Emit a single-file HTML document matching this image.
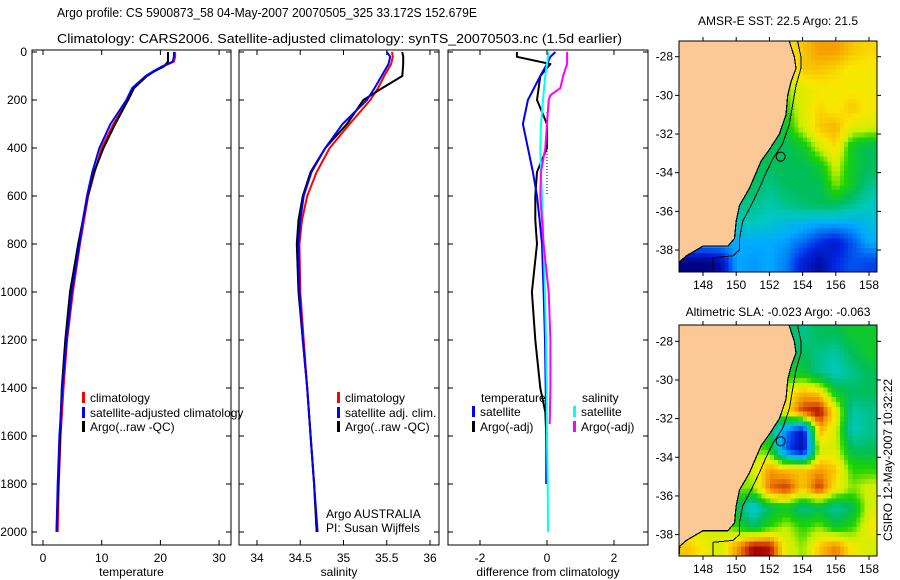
<!DOCTYPE html>
<html><head><meta charset="utf-8"><style>
html,body{margin:0;padding:0;background:#fff}
svg{display:block;font-family:"Liberation Sans",sans-serif}
</style></head><body>
<svg id="fig" width="900" height="580" viewBox="0 0 900 580" xmlns="http://www.w3.org/2000/svg">
<text x="57" y="17" font-size="13" textLength="420" lengthAdjust="spacingAndGlyphs">Argo profile: CS 5900873_58 04-May-2007 20070505_325 33.172S 152.679E</text>
<text x="57" y="43" font-size="13" textLength="565" lengthAdjust="spacingAndGlyphs">Climatology: CARS2006. Satellite-adjusted climatology: synTS_20070503.nc (1.5d earlier)</text>
<text x="778" y="25" font-size="12" text-anchor="middle">AMSR-E SST: 22.5 Argo: 21.5</text>
<text x="778" y="316" font-size="12" text-anchor="middle">Altimetric SLA: -0.023 Argo: -0.063</text>
<text transform="translate(892,460) rotate(-90)" font-size="12" text-anchor="middle">CSIRO 12-May-2007 10:32:22</text>
<g id="plots"></g>
</svg>
<script>
// ---- data ----
const depthsT = [0,20,40,60,80,100,150,200,300,400,500,600,700,800,1000,1200,1400,1600,1800,2000];
const tempClim = [22.5,22.5,22.3,20.5,19,17.7,15.5,14.5,12,10,8.8,7.7,7,6.3,5.1,4.1,3.5,3.0,2.7,2.5];
const tempSat = [22.3,22.3,22.1,20.3,18.8,17.5,15.2,14.2,11.5,9.6,8.4,7.5,6.8,6.2,4.9,4.0,3.3,2.8,2.5,2.3];
const tempArgo = [21.3,21.3,21.3,20.6,19,17.7,15.5,14.5,12.3,10.3,8.7,7.6,6.8,6.0,4.6,3.8,3.2,2.9,2.6,2.3];
const depthsS = [0,20,50,100,150,200,300,400,500,600,700,800,1000,1200,1400,1600,1800,2000];
const salClim = [35.56,35.57,35.55,35.47,35.4,35.31,35.07,34.84,34.69,34.58,34.52,34.49,34.5,34.54,34.58,34.62,34.66,34.69];
const salSat = [35.5,35.54,35.52,35.44,35.36,35.27,34.99,34.79,34.63,34.54,34.5,34.48,34.49,34.53,34.58,34.62,34.66,34.7];
const salArgo = [35.68,35.69,35.69,35.68,35.45,35.23,35.04,34.79,34.62,34.53,34.48,34.46,34.48,34.53,34.58,34.62,34.66,34.69];
const depthsD = [0,20,50,100,200,300,400,500,600,700,800,1000,1200,1400,1500,1600,1800];
const diffTempArgo = [-0.9,-0.9,0.1,-0.2,-0.3,0,0,-0.3,-0.35,-0.35,-0.3,-0.45,-0.35,-0.2,-0.05,-0.02,-0.02];
const diffTempSat = [0.25,0.1,0,-0.2,-0.57,-0.72,-0.57,-0.42,-0.3,-0.22,-0.15,-0.1,-0.06,-0.04,-0.03,-0.02,0];
const depthsC = [0,50,100,200,300,400,500,600,800,1000,1200,1400,1600,1800,2000];
const diffSalSat = [0.05,0,-0.05,-0.12,-0.18,-0.2,-0.18,-0.15,-0.1,-0.06,-0.03,-0.01,0,0.02,0.03];
const depthsM = [0,50,100,150,180,200,300,400,500,600,700,800,1000,1200,1400,1550];
const diffSalArgo = [0.6,0.6,0.48,0.4,0.1,0.05,0,-0.05,-0.18,-0.2,-0.15,-0.1,0.05,0.1,0.1,0.08];
const depthTicks = [0,200,400,600,800,1000,1200,1400,1600,1800,2000];
const tempTicks = [0,10,20,30];
const salTicks = [34,34.5,35,35.5,36];
const salTickLabels = ["34","34.5","35","35.5","36"];
const diffTicks = [-2,0,2];
const latTicks = [-28,-30,-32,-34,-36,-38];
const lonTicks = [148,150,152,154,156,158];
const sstGrid = [
[.7,.7,.7,.7,.7,.7,.75,.8,.85,.85,.8,.78],
[.7,.7,.7,.7,.7,.65,.7,.8,.8,.78,.75,.75],
[.7,.7,.7,.7,.7,.55,.65,.72,.75,.75,.75,.75],
[.7,.7,.7,.7,.7,.5,.6,.72,.78,.75,.8,.75],
[.7,.7,.7,.7,.6,.5,.55,.7,.8,.82,.72,.7],
[.6,.6,.6,.6,.55,.5,.5,.55,.7,.78,.55,.5],
[.55,.55,.55,.55,.5,.5,.5,.5,.55,.7,.55,.5],
[.5,.5,.5,.5,.5,.45,.5,.5,.5,.65,.55,.45],
[.45,.45,.45,.45,.45,.42,.45,.48,.5,.5,.45,.4],
[.4,.4,.4,.4,.4,.38,.35,.33,.3,.3,.3,.35],
[.3,.3,.3,.3,.3,.3,.28,.22,.15,.1,.2,.3],
[0,0,.05,.3,.28,.3,.25,.12,.05,.15,.2,.18]];
const slaGrid = [
[.6,.6,.6,.6,.6,.6,.5,.45,.5,.5,.55,.55],
[.6,.6,.6,.6,.6,.55,.5,.5,.45,.42,.5,.55],
[.6,.6,.6,.6,.6,.55,.55,.55,.45,.4,.45,.5],
[.6,.6,.6,.6,.6,.65,.72,.82,.78,.55,.5,.5],
[.6,.6,.6,.6,.6,.6,.75,.95,1,.75,.42,.45],
[.6,.6,.6,.6,.6,.5,.25,.08,.82,.7,.4,.45],
[.6,.6,.6,.6,.65,.6,.2,.05,.7,.7,.5,.5],
[.6,.6,.6,.6,.7,.85,.8,.8,.85,.8,.6,.6],
[.6,.6,.6,.65,.65,.9,.95,.8,.95,.75,.65,.7],
[.6,.6,.6,.5,.35,.5,.55,.45,.5,.42,.5,.7],
[.7,.7,.7,.6,.5,.6,.68,.6,.65,.55,.6,.75],
[.8,.75,.7,.85,1,.98,.72,.65,.8,.88,.75,.7]];
const coastLon = [153.2,153.5,153.6,153.3,153.1,153.0,152.6,152.0,151.5,151.2,150.8,150.2,150.0,149.9,149.5,148.0,147.0,146.6];
const coastLat = [-27.2,-28.0,-28.6,-29.3,-30.0,-31.0,-32.0,-32.8,-33.4,-34.0,-34.8,-35.7,-36.5,-37.4,-37.8,-37.8,-38.3,-38.6];
const shelfLon = [153.7,153.9,153.9,153.6,153.4,153.2,152.8,152.2,151.8,151.4,150.9,150.4,150.2,150.2,149.8,148.6,148.6];
const shelfLat = [-27.2,-28.0,-28.6,-29.5,-30.5,-31.5,-32.5,-33.3,-34.0,-34.8,-35.7,-36.5,-37.4,-38.0,-38.3,-38.4,-39.2];
const argoLon = 152.679, argoLat = -33.172;

const NS="http://www.w3.org/2000/svg";
const root=document.getElementById('plots');
function mk(tag,attrs,parent){const e=document.createElementNS(NS,tag);for(const k in attrs)e.setAttribute(k,attrs[k]);(parent||root).appendChild(e);return e;}

const Y0=52, YS=0.24, YB=545, YT=50;
const yD=d=>Y0+d*YS;

function profilePanel(name,left,right,x0,v0,scale,ticks,labels,xlabel){
  const xs=v=>x0+(v-v0)*scale;
  const g=mk('g',{});
  
  
  const fr=mk('rect',{x:left,y:YT,width:right-left,height:YB-YT,fill:'none',stroke:'#000','stroke-width':1},g);
  
  
  depthTicks.forEach(d=>{
    const y=yD(d);
    mk('line',{x1:left,x2:left+5,y1:y,y2:y,stroke:'#000'},g);
    mk('line',{x1:right,x2:right-5,y1:y,y2:y,stroke:'#000'},g);
  });
  ticks.forEach((v,i)=>{
    const x=xs(v);
    mk('line',{x1:x,x2:x,y1:YB,y2:YB-5,stroke:'#000'},g);
    mk('line',{x1:x,x2:x,y1:YT,y2:YT+5,stroke:'#000'},g);
    const t=mk('text',{x:x,y:YB+17,'font-size':12,'text-anchor':'middle'},g);
    t.textContent=labels[i];
    
    
  });
  const xl=mk('text',{x:(left+right)/2,y:576,'font-size':12,'text-anchor':'middle'},g);
  xl.textContent=xlabel;
  
  
  return {g,xs};
}
function series(p,depths,vals,color,name,w){
  const pts=depths.map((d,i)=>p.xs(vals[i]).toFixed(1)+','+yD(d).toFixed(1)).join(' ');
  const l=mk('polyline',{points:pts,fill:'none',stroke:color,'stroke-width':w||2,'stroke-linejoin':'round'},p.g);
  
  
}
function legend(g,x,y,color,label,name){
  const b=mk('rect',{x:x,y:y-10,width:3,height:11,fill:color},g);
  
  
  const t=mk('text',{x:x+8,y:y,'font-size':12},g);
  t.textContent=label;
  
  
}

depthTicks.forEach(d=>{
  const t=mk('text',{x:27,y:yD(d)+4,'font-size':12,'text-anchor':'end'});
  t.textContent=String(d);
  
  
});

const p1=profilePanel('temperature',32,231,43,0,5.87,tempTicks,tempTicks.map(String),'temperature');
series(p1,depthsT,tempClim,'#f00','temp-climatology-line');
series(p1,depthsT,tempArgo,'#000','temp-argo-line');
series(p1,depthsT,tempSat,'#00f','temp-satellite-line');
legend(p1.g,82,402,'#f00','climatology','legend-climatology');
legend(p1.g,82,417,'#00f','satellite-adjusted climatology','legend-satellite-adjusted');
legend(p1.g,82,431,'#000','Argo(..raw -QC)','legend-argo');

const p2=profilePanel('salinity',239,439,257,34,86.5,salTicks,salTickLabels,'salinity');
series(p2,depthsS,salClim,'#f00','sal-climatology-line');
series(p2,depthsS,salArgo,'#000','sal-argo-line');
series(p2,depthsS,salSat,'#00f','sal-satellite-line');
legend(p2.g,337,402,'#f00','climatology','legend-sal-climatology');
legend(p2.g,337,417,'#00f','satellite adj. clim.','legend-sal-satellite');
legend(p2.g,337,431,'#000','Argo(..raw -QC)','legend-sal-argo');
const a1=mk('text',{x:326,y:518,'font-size':12},p2.g);a1.textContent='Argo AUSTRALIA';


const a2=mk('text',{x:326,y:532,'font-size':12},p2.g);a2.textContent='PI: Susan Wijffels';



const p3=profilePanel('difference',448,648,547,0,33.5,diffTicks,diffTicks.map(String),'difference from climatology');
const dz=mk('line',{x1:p3.xs(0),x2:p3.xs(0),y1:yD(250),y2:yD(600),stroke:'#000','stroke-dasharray':'1,2'},p3.g);


series(p3,depthsD,diffTempArgo,'#000','diff-temp-argo-line');
series(p3,depthsD,diffTempSat,'#00f','diff-temp-satellite-line');
series(p3,depthsC,diffSalSat,'#0ff','diff-sal-satellite-line');
series(p3,depthsM,diffSalArgo,'#f0f','diff-sal-argo-line');
const lt=mk('text',{x:481,y:402,'font-size':12},p3.g);lt.textContent='temperature';


const ls=mk('text',{x:582,y:402,'font-size':12},p3.g);ls.textContent='salinity';


legend(p3.g,472,416,'#00f','satellite','legend-diff-temp-satellite');
legend(p3.g,472,431,'#000','Argo(-adj)','legend-diff-temp-argo');
legend(p3.g,573,416,'#0ff','satellite','legend-diff-sal-satellite');
legend(p3.g,573,431,'#f0f','Argo(-adj)','legend-diff-sal-argo');

function jet(v){
  const stops=[[0,[0,0,128]],[0.15,[0,40,230]],[0.3,[0,170,255]],[0.4,[0,200,190]],[0.5,[0,190,90]],[0.6,[30,210,0]],[0.68,[200,240,0]],[0.76,[250,230,0]],[0.86,[245,150,0]],[0.94,[210,60,0]],[1,[160,0,0]]];
  v=Math.max(0,Math.min(1,v));
  for(let i=1;i<stops.length;i++){if(v<=stops[i][0]){const a=stops[i-1],b=stops[i],t=(v-a[0])/(b[0]-a[0]);return 'rgb('+a[1].map((c,k)=>Math.round(c+(b[1][k]-c)*t)).join(',')+')';}}
  return 'rgb(160,0,0)';
}
function sample(grid,fr,fc){
  const nr=grid.length,nc=grid[0].length;
  fr=Math.max(0,Math.min(nr-1,fr));fc=Math.max(0,Math.min(nc-1,fc));
  const r0=Math.floor(fr),c0=Math.floor(fc),r1=Math.min(nr-1,r0+1),c1=Math.min(nc-1,c0+1);
  const tr=fr-r0,tc=fc-c0;
  return (grid[r0][c0]*(1-tc)+grid[r0][c1]*tc)*(1-tr)+(grid[r1][c0]*(1-tc)+grid[r1][c1]*tc)*tr;
}
function mapPanel(name,top,grid){
  const L=679,R=877,B=top+231;
  const lon0=146.65,lon1=158.85;
  const xl=lon=>703+(lon-148)*16.6;
  const yRef = top===41?56.7:341.3;
  const yl=lat=>yRef+(-28-lat)*19.33;
  const g=mk('g',{});
  
  
  const clip=mk('clipPath',{id:name+'-clip'},g);
  mk('rect',{x:L,y:top,width:R-L,height:B-top},clip);
  const cells=mk('g',{'clip-path':'url(#'+name+'-clip)','shape-rendering':'crispEdges'},g);
  const nr=grid.length,nc=grid[0].length;
  const SUB=4, cw=(R-L)/(nc*SUB), ch=(B-top)/(nr*SUB);
  for(let r=0;r<nr*SUB;r++)for(let c=0;c<nc*SUB;c++){
    const v=sample(grid,(r+0.5)/SUB-0.5,(c+0.5)/SUB-0.5);
    const cell=mk('rect',{x:(L+c*cw).toFixed(2),y:(top+r*ch).toFixed(2),width:(cw+0.6).toFixed(2),height:(ch+0.6).toFixed(2),fill:jet(v)},cells);
    
    
  }
  let pts=coastLon.map((lo,i)=>xl(lo).toFixed(1)+','+yl(coastLat[i]).toFixed(1));
  pts.push(L+','+B, L+','+top, xl(coastLon[0]).toFixed(1)+','+top);
  const land=mk('polygon',{points:pts.join(' '),fill:'#fcc895',stroke:'#000','stroke-width':1.2},cells);
  
  
  const sh=mk('polyline',{points:shelfLon.map((lo,i)=>xl(lo).toFixed(1)+','+yl(shelfLat[i]).toFixed(1)).join(' '),fill:'none',stroke:'#000','stroke-width':1},cells);
  
  
  const c=mk('circle',{cx:xl(argoLon),cy:yl(argoLat),r:4.5,fill:'none',stroke:'#000','stroke-width':1},g);
  
  
  const fr=mk('rect',{x:L,y:top,width:R-L,height:B-top,fill:'none',stroke:'#000'},g);
  
  
  latTicks.forEach(la=>{
    const y=yl(la);
    mk('line',{x1:L-4,x2:L,y1:y,y2:y,stroke:'#000'},g);
    mk('line',{x1:R,x2:R+4,y1:y,y2:y,stroke:'#000'},g);
    const t=mk('text',{x:L-6,y:y+4,'font-size':12,'text-anchor':'end'},g);
    t.textContent=String(la);
    
    
  });
  lonTicks.forEach(lo=>{
    const x=xl(lo);
    mk('line',{x1:x,x2:x,y1:top-4,y2:top,stroke:'#000'},g);
    mk('line',{x1:x,x2:x,y1:B,y2:B+4,stroke:'#000'},g);
    const t=mk('text',{x:x,y:B+17,'font-size':12,'text-anchor':'middle'},g);
    t.textContent=String(lo);
    
    
  });
}
mapPanel('sst',41,sstGrid);
mapPanel('sla',325,slaGrid);
</script>
</body></html>
